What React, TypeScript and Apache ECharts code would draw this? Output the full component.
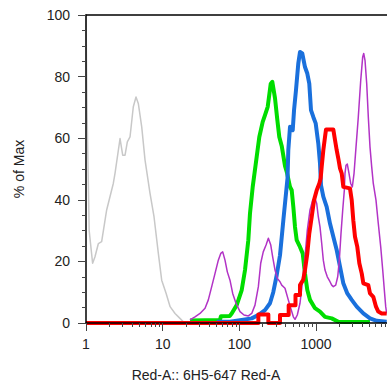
import React, { useEffect, useRef } from "react";
import * as echarts from "echarts";

// Axis ticks
const X_MAJOR_TICKS = [1, 10, 100, 1000];
const X_MINOR_TICKS = [
  2, 3, 4, 5, 6, 7, 8, 9,
  20, 30, 40, 50, 60, 70, 80, 90,
  200, 300, 400, 500, 600, 700, 800, 900,
  2000, 3000, 4000, 5000, 6000, 7000, 8000,
];
const X_MAX_VALUE = 8430;
const Y_TICKS_INTERVAL = 20;

// Unstained (gray)
const grayX = [1.0, 1.03, 1.1, 1.22, 1.31, 1.45, 1.6, 1.86, 2.27, 2.39, 2.78, 3.01, 3.23, 3.46, 3.75, 4.14, 4.49, 4.81, 5.33, 5.89, 6.84, 7.71, 8.78, 9.71, 11.1, 12.5, 14.5, 16.8, 18.6, 20];
const grayY = [100, 70, 30, 19.4, 21.5, 25.8, 26.4, 36.7, 45.3, 48.6, 59.9, 54.5, 54.5, 58.8, 60.4, 70.2, 73.4, 71.3, 63.7, 52.9, 42.1, 34.5, 22.6, 13.9, 9.6, 5.3, 3.1, 1.5, 0.4, 0];

// Green
const greenX = [22.7, 55.9, 57.5, 75, 79.5, 92.4, 107.4, 118.6, 130.9, 137.7, 149.4, 168.4, 182.1, 201.6, 216.1, 234.4, 256.6, 269.2, 291.8, 312.7, 332, 357, 394, 420, 458, 482, 506, 532, 560, 618, 670, 718, 770, 835, 970, 1127, 1310, 1602, 1954, 2388, 5060];
const greenY = [0.8, 1.0, 2.2, 2.3, 3.1, 5.8, 10.7, 17.2, 26.9, 35.6, 44.2, 54.0, 60.4, 65.3, 67.5, 70.2, 77.7, 78.3, 73.0, 66.0, 60.4, 57.5, 51.0, 48.6, 44.2, 43.1, 37.7, 31.2, 26.9, 24.7, 22.6, 16.1, 10.7, 7.5, 4.8, 3.7, 2.0, 1.5, 0.4, 0.3, 0.3];

// Blue
const blueX = [50.7, 75.5, 107.4, 145, 176.7, 216, 251, 277, 307, 339, 375, 406, 425, 435, 458, 497, 517, 548, 587, 618, 662, 718, 770, 817, 860, 922, 991, 1071, 1127, 1161, 1245, 1378, 1522, 1682, 1861, 2056, 2270, 2560, 2922, 3397, 4141, 5058, 6191, 8350];
const blueY = [0.4, 0.4, 1.0, 1.5, 2.6, 4.2, 6.4, 10.0, 15.5, 22.0, 33.4, 42.1, 47.0, 56.1, 63.7, 62.6, 69.1, 75.6, 84.2, 88.0, 87.5, 83.1, 81.0, 77.7, 69.1, 66.9, 64.8, 58.3, 51.8, 44.8, 41.0, 37.7, 32.3, 28.0, 23.7, 18.3, 12.9, 9.6, 7.5, 5.3, 3.1, 1.5, 0.7, 0.4];

// Magenta
const magentaX = [22.7, 26.4, 30.7, 35.7, 39.4, 43.6, 48.2, 53.2, 57.2, 60.7, 65.0, 69.7, 75.5, 81.9, 90.4, 102, 115, 131, 145, 160, 177, 190, 205, 223, 239, 257, 272, 292, 313, 339, 357, 394, 435, 468, 506, 532, 570, 618, 670, 718, 770, 835, 905, 970, 1021, 1071, 1127, 1186, 1245, 1310, 1403, 1522, 1602, 1682, 1807, 1919, 2014, 2118, 2230, 2340, 2388, 2461, 2560, 2692, 2833, 2974, 3133, 3325, 3561, 3830, 4063, 4188, 4355, 4584, 4809, 5058, 5325, 5585, 6056, 6491, 6982, 7413, 7780, 8110, 8350];
const magentaY = [1.0, 2.0, 3.1, 4.8, 7.5, 11.8, 16.1, 20.4, 22.6, 23.1, 20.4, 16.6, 13.9, 9.6, 6.4, 3.7, 2.6, 2.3, 3.1, 5.8, 11.8, 19.4, 23.1, 25.3, 27.5, 25.3, 21.5, 17.2, 14.5, 13.4, 12.3, 11.3, 7.5, 4.8, 2.0, 1.2, 2.6, 6.4, 13.9, 21.5, 30.2, 36.7, 39.9, 40.4, 38.8, 34.5, 31.2, 25.9, 20.4, 17.2, 15.0, 13.4, 12.3, 11.8, 12.3, 15.0, 20.4, 29.1, 36.7, 43.1, 48.6, 51.2, 51.6, 48.6, 45.3, 44.2, 48.6, 57.2, 66.9, 78.8, 86.4, 87.5, 85.3, 77.7, 66.9, 57.2, 50.7, 45.3, 39.9, 32.3, 24.7, 17.2, 10.7, 5.3, 3.1];

// Red
const redX = [1, 177, 177, 239, 239, 339, 339, 440, 440, 540, 540, 618, 618, 680, 718, 770, 817, 879, 942, 1021, 1104, 1150, 1186, 1245, 1310, 1350, 1682, 1769, 1861, 1954, 2056, 2163, 2270, 2774, 2922, 3063, 3225, 3456, 3672, 3945, 4141, 4809, 5058, 5585, 6056, 6491, 7188, 8350];
const redY = [0, 0, 2.8, 2.8, 0, 0, 2.6, 2.6, 5.8, 5.8, 9.1, 9.1, 12.3, 14.0, 17.2, 22.6, 29.1, 34.5, 39.9, 43.1, 45.3, 47.0, 50.7, 56.1, 60.4, 62.8, 62.8, 59.4, 56.1, 53.4, 50.2, 48.6, 44.2, 43.7, 39.9, 33.4, 28.0, 24.7, 19.4, 16.1, 12.9, 12.3, 9.6, 8.5, 5.3, 3.7, 3.1, 3.1];

const X_TITLE = "Red-A:: 6H5-647 Red-A";
const Y_TITLE = "% of Max";

const FONT = "Liberation Sans";

function toPts(xs: number[], ys: number[]) {
  return xs.map((x, i) => [Math.log10(x), ys[i]]);
}

export default function App() {
  const ref = useRef<HTMLDivElement>(null);
  useEffect(() => {
    const chart = echarts.init(ref.current as HTMLDivElement, null, { renderer: "svg" });
    const xMax = Math.log10(X_MAX_VALUE);
    const lineSeries = (data: number[][], color: string, width: number) => ({
      type: "line",
      data,
      xAxisIndex: 0,
      yAxisIndex: 0,
      showSymbol: false,
      symbol: "none",
      clip: false,
      lineStyle: { color, width, join: "round" },
      emphasis: { disabled: true },
    });
    chart.setOption({
      animation: false,
      backgroundColor: "#ffffff",
      grid: { left: 86, top: 15, right: 0, bottom: 64 },
      xAxis: [
        {
          type: "value",
          position: "bottom",
          min: 0,
          max: xMax,
          z: 10,
          axisLine: { show: true, onZero: false, lineStyle: { color: "#000", width: 1.5 } },
          axisTick: {
            show: true,
            length: 8,
            customValues: X_MAJOR_TICKS.map((v) => Math.log10(v)),
            lineStyle: { color: "#444" },
          },
          axisLabel: {
            customValues: X_MAJOR_TICKS.map((v) => Math.log10(v)),
            formatter: (v: number) => String(Math.round(Math.pow(10, v))),
            margin: 14,
            color: "#222",
            fontSize: 14,
            fontFamily: FONT,
          },
          splitLine: { show: false },
        },
        {
          type: "value",
          position: "bottom",
          min: 0,
          max: xMax,
          z: 10,
          axisLine: { show: false, onZero: false },
          axisTick: {
            show: true,
            length: 4,
            customValues: X_MINOR_TICKS.map((v) => Math.log10(v)),
            lineStyle: { color: "#444" },
          },
          axisLabel: { show: false },
          splitLine: { show: false },
        },
        {
          type: "value",
          position: "top",
          min: 0,
          max: xMax,
          z: 10,
          axisLine: { show: true, onZero: false, lineStyle: { color: "#000", width: 1.5 } },
          axisTick: { show: false },
          axisLabel: { show: false },
          splitLine: { show: false },
        },
      ],
      yAxis: {
        type: "value",
        min: 0,
        max: 100,
        interval: Y_TICKS_INTERVAL,
        z: 10,
        name: Y_TITLE,
        nameLocation: "middle",
        nameGap: 60,
        nameTextStyle: { color: "#222", fontSize: 14, fontFamily: FONT },
        axisLine: { show: true, onZero: false, lineStyle: { color: "#000", width: 1.5 } },
        axisTick: { show: true, length: 8, lineStyle: { color: "#444" } },
        minorTick: { show: true, splitNumber: 4, length: 4, lineStyle: { color: "#444" } },
        axisLabel: { margin: 16, color: "#222", fontSize: 14, fontFamily: FONT },
        splitLine: { show: false },
      },
      graphic: [
        {
          type: "text",
          x: 206,
          y: 375,
          style: {
            text: X_TITLE,
            fill: "#222",
            fontSize: 14,
            fontFamily: FONT,
            align: "center",
            verticalAlign: "middle",
          },
        },
      ],
      series: [
        lineSeries(toPts(grayX, grayY), "#c8c8c8", 1.5),
        lineSeries(toPts(greenX, greenY), "#00dd00", 4),
        lineSeries(toPts(blueX, blueY), "#1a70dc", 4),
        lineSeries(toPts(magentaX, magentaY), "#b233c6", 1.5),
        lineSeries(toPts(redX, redY), "#ff0000", 4),
      ],
    });
    return () => chart.dispose();
  }, []);
  return (
    <div
      ref={ref}
      style={{ position: "fixed", left: 0, top: 0, width: 387, height: 387, background: "#fff" }}
    />
  );
}
